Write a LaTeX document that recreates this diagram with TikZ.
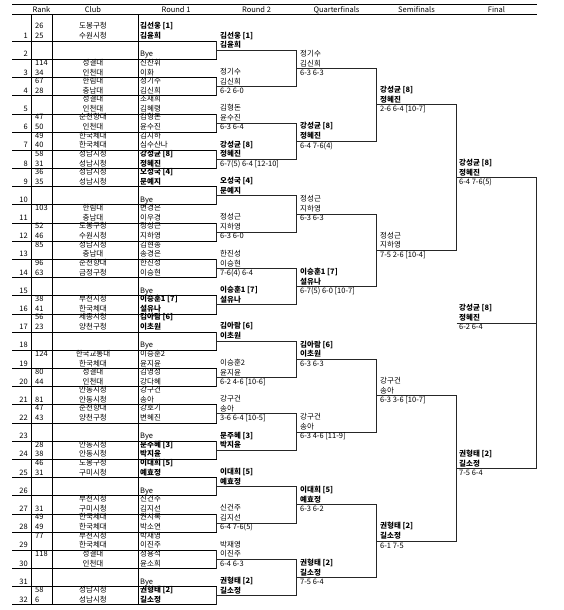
\documentclass[tikz,border=0pt]{standalone}
\usepackage{fontspec}
\setmainfont{Noto Sans CJK KR}

\begin{document}
\begin{tikzpicture}[x=1pt, y=-1pt,
  every node/.style={font=\fontsize{7.5}{9}\selectfont, inner sep=0pt,
    text height=5.6pt, text depth=1.4pt},
  rule/.style={line width=0.9pt, black},
  bracket/.style={line width=1pt, black!85}]
  \useasboundingbox (0,0) rectangle (563,610);

  % header
  \coordinate (HL1) at (12,4.7);   \coordinate (HR1) at (536.5,4.7);
  \coordinate (HL2) at (12,14.7);  \coordinate (HR2) at (536.5,14.7);
  \draw[rule] (HL1) -- (HR1);
  \draw[rule] (HL2) -- (HR2);
  \foreach \x/\t [count=\i] in {41.5/Rank, 93/Club, 176/Round 1, 256.5/Round 2,
      336.5/Quarterfinals, 416.5/Semifinals, 496.5/Final}
    \node (head\i) at (\x,10) {\t};

  % table columns
  \foreach \x [count=\i] in {31,52,138} {
    \coordinate (ct\i) at (\x,14.7);
    \coordinate (cb\i) at (\x,605);
    \draw[rule] (ct\i) -- (cb\i);
  }

  % round 1: a line under every slot, box per match
  \foreach \s in {1,...,32} {
    \pgfmathsetmacro\yb{41.3+(\s-1)*18.18}
    \coordinate (sl\s) at (12,\yb);
    \coordinate (sr\s) at (216.5,\yb);
    \draw[rule] (sl\s) -- (sr\s);
  }
  \foreach \p in {1,...,16} {
    \pgfmathtruncatemacro\a{2*\p-1}
    \pgfmathtruncatemacro\b{2*\p}
    \draw[bracket] (sr\a) -- (sr\b);
  }

  % round 2
  \foreach \p in {1,...,16} {
    \pgfmathsetmacro\yr{50.39+(\p-1)*36.36}
    \coordinate (al\p) at (216.5,\yr);
    \coordinate (ar\p) at (296.5,\yr);
    \draw[bracket] (al\p) -- (ar\p);
  }
  \foreach \q in {1,...,8} {
    \pgfmathtruncatemacro\a{2*\q-1}
    \pgfmathtruncatemacro\b{2*\q}
    \draw[bracket] (ar\a) -- (ar\b);
  }

  % quarterfinals
  \foreach \q in {1,...,8} {
    \pgfmathsetmacro\yr{68.57+(\q-1)*72.72}
    \coordinate (ql\q) at (296.5,\yr);
    \coordinate (qr\q) at (376.5,\yr);
    \draw[bracket] (ql\q) -- (qr\q);
  }
  \foreach \r in {1,...,4} {
    \pgfmathtruncatemacro\a{2*\r-1}
    \pgfmathtruncatemacro\b{2*\r}
    \draw[bracket] (qr\a) -- (qr\b);
  }

  % semifinals
  \foreach \r in {1,...,4} {
    \pgfmathsetmacro\yr{104.93+(\r-1)*145.44}
    \coordinate (fl\r) at (376.5,\yr);
    \coordinate (fr\r) at (456.5,\yr);
    \draw[bracket] (fl\r) -- (fr\r);
  }
  \draw[bracket] (fr1) -- (fr2);
  \draw[bracket] (fr3) -- (fr4);

  % final and winner
  \coordinate (gl1) at (456.5,177.65);  \coordinate (gr1) at (536.5,177.65);
  \coordinate (gl2) at (456.5,468.53);  \coordinate (gr2) at (536.5,468.53);
  \coordinate (wl) at (456.5,323.09);   \coordinate (wr) at (536.5,323.09);
  \draw[bracket] (gl1) -- (gr1) -- (gr2) -- (gl2);
  \draw[bracket] (wl) -- (wr);

  % draw slots: number / ranks / clubs / players
  \foreach \s/\ra/\ca/\na/\rb/\cb/\nb in {
      1/26/도봉구청/\textbf{김선웅 [1]}/25/수원시청/\textbf{김윤희},
      2/{}/{}/{}/{}/{}/Bye,
      3/114/성결대/신찬휘/34/인천대/이화,
      4/67/한림대/정기수/28/충남대/김신희,
      5/{}/성결대/조재희/{}/인천대/김혜령,
      6/47/순천향대/김형돈/50/인천대/윤수진,
      7/49/한국체대/김지하/40/한국체대/심수산나,
      8/58/성남시청/\textbf{강성균 [8]}/31/성남시청/\textbf{정혜진},
      9/36/성남시청/\textbf{오성국 [4]}/35/성남시청/\textbf{문예지},
      10/{}/{}/{}/{}/{}/Bye,
      11/103/한림대/변경은/{}/충남대/이우경,
      12/52/도봉구청/정성근/46/수원시청/지하영,
      13/85/성남시청/김현종/{}/충남대/송경은,
      14/96/순천향대/한진성/63/금정구청/이승현,
      15/{}/{}/{}/{}/{}/Bye,
      16/38/부천시청/\textbf{이승훈1 [7]}/41/한국체대/\textbf{설유나},
      17/56/세종시청/\textbf{김아람 [6]}/23/양천구청/\textbf{이초원},
      18/{}/{}/{}/{}/{}/Bye,
      19/124/한국교통대/이승훈2/{}/한국체대/윤지윤,
      20/80/성결대/김영성/44/인천대/강다혜,
      21/{}/안동시청/강구건/81/안동시청/송아,
      22/47/순천향대/강호기/43/양천구청/변혜진,
      23/{}/{}/{}/{}/{}/Bye,
      24/28/안동시청/\textbf{문주혜 [3]}/38/안동시청/\textbf{박지윤},
      25/46/도봉구청/\textbf{이대희 [5]}/31/구미시청/\textbf{예효정},
      26/{}/{}/{}/{}/{}/Bye,
      27/{}/부천시청/신건주/31/구미시청/김지선,
      28/49/한국체대/권시록/49/한국체대/박소연,
      29/77/부천시청/박재영/{}/한국체대/이진주,
      30/118/성결대/정용석/{}/인천대/윤소희,
      31/{}/{}/{}/{}/{}/Bye,
      32/58/성남시청/\textbf{권형태 [2]}/6/성남시청/\textbf{길소정}} {
    \pgfmathsetmacro\yb{41.3+(\s-1)*18.18}
    \node[anchor=east] (no\s) at (28,\yb-4.6) {\s};
    \node[anchor=west] (ka\s) at (35,\yb-14.4) {\ra};
    \node[anchor=west] (kb\s) at (35,\yb-4.6) {\rb};
    \node (ca\s) at (93,\yb-14.4) {\ca};
    \node (cb\s) at (93,\yb-4.6) {\cb};
    \node[anchor=west] (pa\s) at (140,\yb-14.4) {\na};
    \node[anchor=west] (pb\s) at (140,\yb-4.6) {\nb};
  }

  % round 2 winners
  \foreach \p/\na/\nb/\sc in {
      1/\textbf{김선웅 [1]}/\textbf{김윤희}/{},
      2/정기수/김신희/6-2 6-0,
      3/김형돈/윤수진/6-3 6-4,
      4/\textbf{강성균 [8]}/\textbf{정혜진}/6-7(5) 6-4 [12-10],
      5/\textbf{오성국 [4]}/\textbf{문예지}/{},
      6/정성근/지하영/6-3 6-0,
      7/한진성/이승현/7-6(4) 6-4,
      8/\textbf{이승훈1 [7]}/\textbf{설유나}/{},
      9/\textbf{김아람 [6]}/\textbf{이초원}/{},
      10/이승훈2/윤지윤/6-2 4-6 [10-6],
      11/강구건/송아/3-6 6-4 [10-5],
      12/\textbf{문주혜 [3]}/\textbf{박지윤}/{},
      13/\textbf{이대희 [5]}/\textbf{예효정}/{},
      14/신건주/김지선/6-4 7-6(5),
      15/박재영/이진주/6-4 6-3,
      16/\textbf{권형태 [2]}/\textbf{길소정}/{}} {
    \node[anchor=west] (wa\p) at ([xshift=3.5pt,yshift=14.4pt]al\p) {\na};
    \node[anchor=west] (wb\p) at ([xshift=3.5pt,yshift=4.6pt]al\p) {\nb};
    \node[anchor=west] (ws\p) at ([xshift=3.5pt,yshift=-4.7pt]al\p) {\sc};
  }

  % quarterfinal winners
  \foreach \q/\na/\nb/\sc in {
      1/정기수/김신희/6-3 6-3,
      2/\textbf{강성균 [8]}/\textbf{정혜진}/6-4 7-6(4),
      3/정성근/지하영/6-3 6-3,
      4/\textbf{이승훈1 [7]}/\textbf{설유나}/6-7(5) 6-0 [10-7],
      5/\textbf{김아람 [6]}/\textbf{이초원}/6-3 6-3,
      6/강구건/송아/6-3 4-6 [11-9],
      7/\textbf{이대희 [5]}/\textbf{예효정}/6-3 6-2,
      8/\textbf{권형태 [2]}/\textbf{길소정}/7-5 6-4} {
    \node[anchor=west] (xa\q) at ([xshift=3.5pt,yshift=14.4pt]ql\q) {\na};
    \node[anchor=west] (xb\q) at ([xshift=3.5pt,yshift=4.6pt]ql\q) {\nb};
    \node[anchor=west] (xs\q) at ([xshift=3.5pt,yshift=-4.7pt]ql\q) {\sc};
  }

  % semifinal winners
  \foreach \r/\na/\nb/\sc in {
      1/\textbf{강성균 [8]}/\textbf{정혜진}/2-6 6-4 [10-7],
      2/정성근/지하영/7-5 2-6 [10-4],
      3/강구건/송아/6-3 3-6 [10-7],
      4/\textbf{권형태 [2]}/\textbf{길소정}/6-1 7-5} {
    \node[anchor=west] (ya\r) at ([xshift=3.5pt,yshift=14.4pt]fl\r) {\na};
    \node[anchor=west] (yb\r) at ([xshift=3.5pt,yshift=4.6pt]fl\r) {\nb};
    \node[anchor=west] (ys\r) at ([xshift=3.5pt,yshift=-4.7pt]fl\r) {\sc};
  }

  % finalists and champion
  \foreach \c/\na/\nb/\sc in {
      gl1/\textbf{강성균 [8]}/\textbf{정혜진}/6-4 7-6(5),
      gl2/\textbf{권형태 [2]}/\textbf{길소정}/7-5 6-4,
      wl/\textbf{강성균 [8]}/\textbf{정혜진}/6-2 6-4} {
    \node[anchor=west] (za\c) at ([xshift=2.5pt,yshift=14.4pt]\c) {\na};
    \node[anchor=west] (zb\c) at ([xshift=2.5pt,yshift=4.6pt]\c) {\nb};
    \node[anchor=west] (zs\c) at ([xshift=2.5pt,yshift=-4.7pt]\c) {\sc};
  }
\end{tikzpicture}
\end{document}
